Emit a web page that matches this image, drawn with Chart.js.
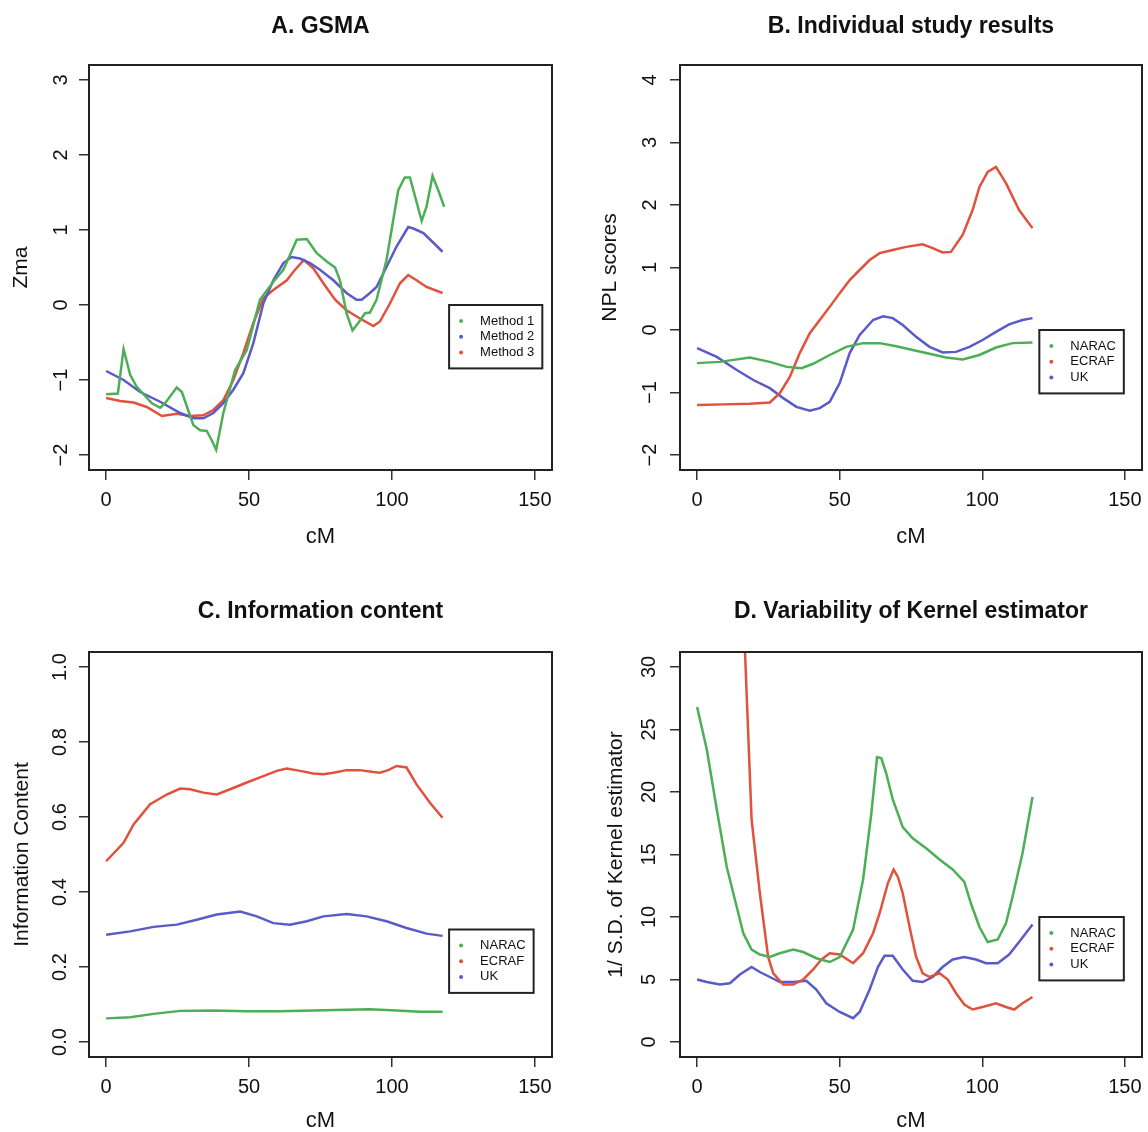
<!DOCTYPE html>
<html lang="en">
<head>
<meta charset="UTF-8">
<title>GSMA linkage panels</title>
<script src="https://cdn.jsdelivr.net/npm/chart.js"></script>
<style>
  html, body { margin: 0; padding: 0; background: #fff; overflow: hidden; }
  canvas { position: absolute; }
</style>
</head>
<body>
<canvas id="chartA" width="574" height="566" style="left:0;top:0"></canvas>
<canvas id="chartB" width="574" height="566" style="left:574px;top:0"></canvas>
<canvas id="chartC" width="574" height="566" style="left:0;top:566px"></canvas>
<canvas id="chartD" width="574" height="566" style="left:574px;top:566px"></canvas>
<script>
// ---- A. GSMA (Zma by cM) ----
var gsmaCm1 = [0, 4.1, 6.1, 8.4, 10.7, 16.0, 18.9, 20.6, 24.7, 26.5, 30.5, 32.9, 35.2, 36.9, 38.5, 41.0, 45.1, 49.2, 53.8, 58.5, 62.0, 66.7, 70.2, 73.7, 77.2, 80.1, 81.8, 84.1, 86.2, 88.2, 90.6, 92.3, 94.6, 98.1, 102.2, 104.5, 106.3, 110.4, 112.1, 114.2, 116.2, 118.3];
var gsmaMethod1 = [-1.19, -1.18, -0.59, -0.93, -1.09, -1.31, -1.37, -1.31, -1.10, -1.16, -1.60, -1.67, -1.68, -1.80, -1.93, -1.44, -0.87, -0.60, 0.07, 0.31, 0.47, 0.87, 0.88, 0.69, 0.58, 0.50, 0.33, -0.11, -0.34, -0.24, -0.11, -0.10, 0.07, 0.60, 1.53, 1.70, 1.70, 1.12, 1.31, 1.72, 1.53, 1.31];
var gsmaCm2 = [0, 6.1, 11.9, 18.9, 25.9, 30.5, 34.0, 37.5, 41.0, 44.5, 48.0, 51.5, 55.0, 58.5, 62.0, 64.9, 67.8, 71.3, 74.8, 79.5, 84.1, 87.6, 89.4, 92.3, 94.6, 97.6, 101.6, 105.7, 107.5, 111.0, 114.5, 117.7];
var gsmaMethod2 = [-0.88, -1.00, -1.16, -1.29, -1.44, -1.51, -1.51, -1.44, -1.31, -1.13, -0.91, -0.51, 0.02, 0.33, 0.56, 0.64, 0.62, 0.56, 0.47, 0.33, 0.16, 0.07, 0.07, 0.16, 0.24, 0.47, 0.78, 1.04, 1.02, 0.96, 0.83, 0.71];
var gsmaCm3 = [0, 4.9, 9.6, 14.2, 19.5, 24.7, 29.4, 34.0, 37.5, 41.0, 44.5, 48.0, 51.5, 55.0, 58.5, 63.2, 66.1, 69.2, 72.5, 76.0, 80.1, 84.1, 88.8, 93.5, 95.8, 99.3, 102.8, 105.7, 108.6, 112.1, 117.7];
var gsmaMethod3 = [-1.24, -1.28, -1.30, -1.36, -1.48, -1.45, -1.48, -1.47, -1.40, -1.27, -1.00, -0.64, -0.24, 0.09, 0.20, 0.33, 0.47, 0.60, 0.49, 0.29, 0.07, -0.07, -0.18, -0.28, -0.22, 0.02, 0.29, 0.40, 0.33, 0.24, 0.16];

// ---- B. Individual study results (NPL scores) ----
var nplCmNarac = [0, 8.0, 18.5, 25.5, 31.4, 36.6, 40.7, 46.5, 52.3, 58.2, 64.0, 69.8, 75.6, 81.5, 87.3, 93.1, 99.0, 104.8, 110.6, 117.6];
var nplNarac = [-0.53, -0.51, -0.44, -0.51, -0.59, -0.61, -0.54, -0.40, -0.27, -0.21, -0.21, -0.26, -0.32, -0.38, -0.44, -0.47, -0.40, -0.28, -0.21, -0.20];
var nplCmEcraf = [0, 9.2, 18.5, 25.5, 29.0, 32.5, 36.0, 39.5, 43.0, 46.5, 50.0, 53.5, 57.0, 60.5, 64.0, 68.6, 73.3, 79.1, 82.6, 86.1, 89.0, 93.1, 96.6, 99.0, 101.9, 104.8, 108.3, 112.9, 117.6];
var nplEcraf = [-1.20, -1.19, -1.18, -1.16, -1.01, -0.75, -0.37, -0.05, 0.16, 0.37, 0.59, 0.80, 0.96, 1.12, 1.23, 1.28, 1.33, 1.37, 1.31, 1.24, 1.25, 1.52, 1.92, 2.29, 2.53, 2.61, 2.35, 1.92, 1.63];
var nplCmUk = [0, 6.9, 13.9, 19.7, 25.5, 30.2, 34.8, 39.5, 43.0, 46.5, 50.0, 53.5, 57.0, 61.7, 65.2, 68.6, 72.1, 76.8, 81.5, 86.1, 90.8, 95.5, 100.1, 104.8, 109.4, 114.1, 117.6];
var nplUk = [-0.29, -0.43, -0.64, -0.80, -0.93, -1.09, -1.23, -1.29, -1.25, -1.15, -0.85, -0.37, -0.08, 0.16, 0.22, 0.19, 0.08, -0.11, -0.27, -0.36, -0.35, -0.27, -0.16, -0.03, 0.09, 0.16, 0.19];

// ---- C. Information content ----
var infoCmEcraf = [0, 6.1, 9.6, 15.4, 21.2, 25.9, 29.4, 34.0, 38.7, 43.4, 49.2, 55.0, 59.7, 63.2, 67.8, 72.5, 76.0, 79.5, 84.1, 88.8, 93.5, 95.8, 98.7, 101.6, 105.1, 108.6, 113.3, 117.7];
var infoEcraf = [0.482, 0.531, 0.580, 0.634, 0.660, 0.676, 0.674, 0.665, 0.660, 0.674, 0.692, 0.709, 0.723, 0.729, 0.723, 0.716, 0.714, 0.718, 0.725, 0.725, 0.720, 0.718, 0.725, 0.736, 0.732, 0.687, 0.638, 0.598];
var infoCmUk = [0, 8.4, 16.6, 24.7, 31.7, 38.7, 46.9, 52.7, 58.5, 64.3, 70.2, 76.0, 84.1, 91.1, 98.1, 105.1, 112.1, 117.7];
var infoUk = [0.286, 0.295, 0.307, 0.313, 0.326, 0.340, 0.348, 0.335, 0.317, 0.313, 0.322, 0.335, 0.341, 0.335, 0.322, 0.304, 0.289, 0.283];
var infoCmNarac = [0, 8.4, 16.6, 25.9, 37.5, 49.2, 60.8, 72.5, 84.1, 92.3, 101.6, 109.8, 117.7];
var infoNarac = [0.063, 0.066, 0.075, 0.083, 0.084, 0.082, 0.082, 0.084, 0.086, 0.087, 0.084, 0.081, 0.081];

// ---- D. Variability of Kernel estimator (1/SD) ----
var kernCmNarac = [0, 3.4, 6.9, 10.4, 13.9, 16.2, 19.1, 22.0, 25.5, 29.0, 33.7, 37.2, 41.8, 46.5, 50.0, 54.7, 58.2, 61.1, 63.1, 64.6, 66.3, 68.6, 72.1, 75.6, 80.3, 85.0, 89.6, 93.7, 96.0, 99.0, 101.9, 105.4, 108.3, 110.6, 114.1, 117.6];
var kernNarac = [26.8, 23.4, 18.6, 14.0, 10.8, 8.7, 7.4, 7.0, 6.8, 7.1, 7.4, 7.2, 6.7, 6.4, 6.8, 9.0, 13.0, 18.3, 22.8, 22.7, 21.5, 19.4, 17.2, 16.3, 15.5, 14.6, 13.8, 12.8, 11.1, 9.2, 8.0, 8.2, 9.5, 11.6, 15.1, 19.6];
var kernCmEcraf = [16.5, 19.1, 22.0, 24.9, 26.7, 30.2, 33.7, 37.2, 40.7, 43.6, 46.5, 50.0, 54.7, 58.2, 61.7, 64.0, 66.9, 68.9, 70.4, 72.1, 74.5, 76.8, 79.1, 81.5, 85.0, 87.9, 90.8, 93.7, 96.6, 100.1, 104.8, 108.3, 111.2, 114.1, 117.6];
var kernEcraf = [32.9, 17.8, 11.9, 6.8, 5.5, 4.6, 4.6, 5.0, 5.8, 6.6, 7.1, 7.0, 6.3, 7.1, 8.7, 10.3, 12.7, 13.8, 13.2, 11.9, 9.2, 6.8, 5.5, 5.2, 5.5, 5.0, 3.9, 3.0, 2.6, 2.8, 3.1, 2.8, 2.6, 3.1, 3.6];
var kernCmUk = [0, 3.4, 8.0, 11.5, 15.0, 19.1, 22.0, 25.5, 29.0, 33.7, 38.3, 41.8, 45.3, 50.0, 54.7, 57.0, 60.5, 63.4, 65.7, 68.6, 72.1, 75.6, 79.1, 82.6, 86.1, 89.6, 93.7, 97.8, 101.3, 105.4, 109.4, 112.9, 117.6];
var kernUk = [5.0, 4.8, 4.6, 4.7, 5.4, 6.0, 5.6, 5.2, 4.8, 4.8, 4.9, 4.2, 3.1, 2.4, 1.9, 2.4, 4.2, 6.0, 6.9, 6.9, 5.8, 4.9, 4.8, 5.2, 6.0, 6.6, 6.8, 6.6, 6.3, 6.3, 7.0, 8.0, 9.4];

var FONT = '"Liberation Sans", Arial, Helvetica, sans-serif';
var GREEN = '#4caf55';
var RED = '#e0523c';
var BLUE = '#5a5ac8';
var INK = '#111';

function pts(xs, ys) {
    return xs.map(function(x, i) { return { x: x, y: ys[i] }; });
}

function minusSign(v) {
    return String(v).replace('-', '\u2212');
}

// R style box around the plot region
var boxPlugin = {
    id: 'box',
    afterDraw: function(chart) {
        var a = chart.chartArea, ctx = chart.ctx;
        ctx.save();
        ctx.strokeStyle = '#222';
        ctx.lineWidth = 2;
        ctx.strokeRect(a.left, a.top, a.right - a.left, a.bottom - a.top);
        ctx.restore();
    }
};

// legend placed at data coordinates, like legend(x, y, ...) in R
var rLegendPlugin = {
    id: 'rlegend',
    afterDraw: function(chart, args, opts) {
        var ctx = chart.ctx;
        var x0 = chart.scales.x.getPixelForValue(opts.x);
        var y0 = chart.scales.y.getPixelForValue(opts.y);
        var sets = chart.data.datasets;
        ctx.save();
        ctx.font = '13px ' + FONT;
        var tw = 0;
        sets.forEach(function(s) { tw = Math.max(tw, ctx.measureText(s.label).width); });
        var rowH = 15.7;
        var w = 31 + tw + 8;
        var h = 32 + rowH * (sets.length - 1);
        ctx.strokeStyle = '#222';
        ctx.lineWidth = 2;
        ctx.strokeRect(x0, y0, w, h);
        ctx.textBaseline = 'middle';
        ctx.textAlign = 'left';
        sets.forEach(function(s, i) {
            var yy = y0 + 16 + i * rowH;
            ctx.fillStyle = s.borderColor;
            ctx.beginPath();
            ctx.arc(x0 + 12, yy, 2, 0, Math.PI * 2);
            ctx.fill();
            ctx.fillStyle = INK;
            ctx.fillText(s.label, x0 + 31, yy);
        });
        ctx.restore();
    }
};

function makeChart(id, cfg) {
    return new Chart(document.getElementById(id), {
        type: 'line',
        data: {
            datasets: cfg.series.map(function(s) {
                return {
                    label: s.label,
                    data: pts(s.x, s.y),
                    borderColor: s.color,
                    backgroundColor: s.color,
                    borderWidth: 2.5,
                    pointRadius: 0,
                    tension: 0,
                    fill: false
                };
            })
        },
        options: {
            responsive: false,
            animation: false,
            events: [],
            layout: { padding: { left: 0, right: cfg.padRight, top: 0, bottom: 0 } },
            plugins: {
                legend: { display: false },
                tooltip: { enabled: false },
                title: {
                    display: true,
                    text: cfg.title,
                    fullSize: false,
                    color: INK,
                    font: { family: FONT, size: 23, weight: 'bold', lineHeight: 1.2 },
                    padding: { top: cfg.titleTop, bottom: cfg.titleBottom }
                },
                rlegend: { x: cfg.legendAt[0], y: cfg.legendAt[1] }
            },
            scales: {
                x: {
                    type: 'linear',
                    min: -6,
                    max: 156,
                    border: { display: false },
                    grid: { drawOnChartArea: false, drawTicks: true, tickLength: 10, color: '#333', lineWidth: 1.5 },
                    ticks: { stepSize: 50, includeBounds: false, padding: 8, color: INK, font: { family: FONT, size: 20 } },
                    title: { display: true, text: 'cM', color: INK, font: { family: FONT, size: 22, lineHeight: 1 }, padding: { top: 0, bottom: cfg.xTitlePad } },
                    afterFit: function(s) { s.height = cfg.xHeight; s.paddingLeft = 0; s.paddingRight = 0; }
                },
                y: {
                    type: 'linear',
                    min: cfg.yMin,
                    max: cfg.yMax,
                    border: { display: false },
                    grid: { drawOnChartArea: false, drawTicks: true, tickLength: 10, color: '#333', lineWidth: 1.5 },
                    ticks: {
                        stepSize: cfg.yStep,
                        includeBounds: false,
                        minRotation: 90,
                        maxRotation: 90,
                        crossAlign: 'center',
                        padding: cfg.yLabelPad,
                        color: INK,
                        font: { family: FONT, size: 20 },
                        callback: cfg.yFormat
                    },
                    title: { display: true, text: cfg.yTitle, color: INK, font: { family: FONT, size: 21, lineHeight: 1 }, padding: { top: cfg.yTitlePad, bottom: 0 } },
                    afterFit: function(s) { s.width = cfg.yWidth; s.paddingTop = 0; s.paddingBottom = 0; }
                }
            }
        },
        plugins: [boxPlugin, rLegendPlugin]
    });
}

var topRow = { titleTop: 13, titleBottom: 24.4, xHeight: 96, xTitlePad: 18 };
var bottomRow = { titleTop: 32, titleBottom: 26.4, xHeight: 75, xTitlePad: 0 };

makeChart('chartA', Object.assign({}, topRow, {
    title: 'A. GSMA',
    yTitle: 'Zma',
    yMin: -2.2, yMax: 3.2, yStep: 1,
    yFormat: minusSign,
    yWidth: 89, padRight: 22, yLabelPad: 6.6, yTitlePad: 10.5,
    legendAt: [120, 0],
    series: [
        { label: 'Method 1', x: gsmaCm1, y: gsmaMethod1, color: GREEN },
        { label: 'Method 2', x: gsmaCm2, y: gsmaMethod2, color: BLUE },
        { label: 'Method 3', x: gsmaCm3, y: gsmaMethod3, color: RED }
    ]
}));

makeChart('chartB', Object.assign({}, topRow, {
    title: 'B. Individual study results',
    yTitle: 'NPL scores',
    yMin: -2.24, yMax: 4.24, yStep: 1,
    yFormat: minusSign,
    yWidth: 106, padRight: 6, yLabelPad: 8.6, yTitlePad: 25.5,
    legendAt: [120, 0],
    series: [
        { label: 'NARAC', x: nplCmNarac, y: nplNarac, color: GREEN },
        { label: 'ECRAF', x: nplCmEcraf, y: nplEcraf, color: RED },
        { label: 'UK', x: nplCmUk, y: nplUk, color: BLUE }
    ]
}));

makeChart('chartC', Object.assign({}, bottomRow, {
    title: 'C. Information content',
    yTitle: 'Information Content',
    yMin: -0.04, yMax: 1.04, yStep: 0.2,
    yFormat: function(v) { return v.toFixed(1); },
    yWidth: 89, padRight: 22, yLabelPad: 5.1, yTitlePad: 11.5,
    legendAt: [120, 0.3],
    series: [
        { label: 'NARAC', x: infoCmNarac, y: infoNarac, color: GREEN },
        { label: 'ECRAF', x: infoCmEcraf, y: infoEcraf, color: RED },
        { label: 'UK', x: infoCmUk, y: infoUk, color: BLUE }
    ]
}));

makeChart('chartD', Object.assign({}, bottomRow, {
    title: 'D. Variability of Kernel estimator',
    yTitle: '1/ S.D. of Kernel estimator',
    yMin: -1.2, yMax: 31.2, yStep: 5,
    yFormat: minusSign,
    yWidth: 106, padRight: 6, yLabelPad: 8.9, yTitlePad: 31.5,
    legendAt: [120, 10],
    series: [
        { label: 'NARAC', x: kernCmNarac, y: kernNarac, color: GREEN },
        { label: 'ECRAF', x: kernCmEcraf, y: kernEcraf, color: RED },
        { label: 'UK', x: kernCmUk, y: kernUk, color: BLUE }
    ]
}));
</script>
</body>
</html>
